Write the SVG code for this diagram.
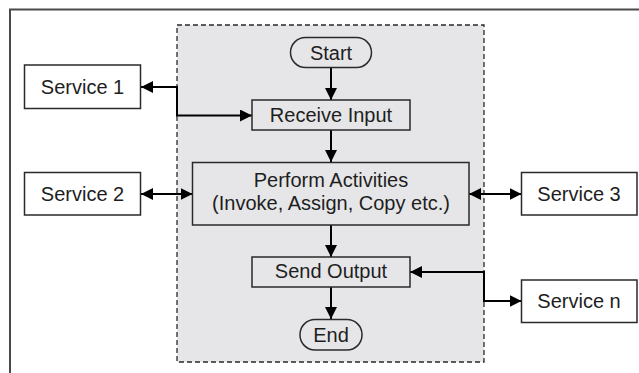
<svg xmlns="http://www.w3.org/2000/svg" width="639" height="373" viewBox="0 0 639 373">
  <style>
    .lbl { font-family: "Liberation Sans", Arial, sans-serif; font-size: 20px; fill: #1e1e1e; text-anchor: middle; }
    .svc { fill: #ffffff; stroke: #2a2a2a; stroke-width: 1.5; }
    .step { fill: #e6e6e8; stroke: #2a2a2a; stroke-width: 1.5; }
    .wire { fill: none; stroke: #000000; stroke-width: 2; }
  </style>
  <defs>
    <marker id="arrow" viewBox="0 0 12 12" refX="12" refY="6" markerWidth="12" markerHeight="12" markerUnits="userSpaceOnUse" orient="auto-start-reverse">
      <path d="M0,0 L12,6 L0,12 Z" fill="#000000"/>
    </marker>
  </defs>

  <rect width="639" height="373" fill="#ffffff"/>
  <!-- outer frame -->
  <path d="M10,373 V9.5 H639" fill="none" stroke="#4a4a4a" stroke-width="2"/>

  <!-- process boundary -->
  <rect id="process" x="177" y="25" width="307" height="337" fill="#e6e6e8" stroke="#2a2a2a" stroke-width="1.3" stroke-dasharray="5,3"/>

  <g id="connectors">
    <line class="wire" x1="331" y1="68" x2="331" y2="100" marker-end="url(#arrow)"/>
    <line class="wire" x1="331" y1="130" x2="331" y2="162" marker-end="url(#arrow)"/>
    <line class="wire" x1="331" y1="225" x2="331" y2="257" marker-end="url(#arrow)"/>
    <line class="wire" x1="331" y1="287" x2="331" y2="319" marker-end="url(#arrow)"/>
    <path class="wire" d="M141,87 H177 V115.5 H252" marker-start="url(#arrow)" marker-end="url(#arrow)"/>
    <line class="wire" x1="141" y1="194" x2="192.5" y2="194" marker-start="url(#arrow)" marker-end="url(#arrow)"/>
    <line class="wire" x1="469" y1="194" x2="521.5" y2="194" marker-start="url(#arrow)" marker-end="url(#arrow)"/>
    <path class="wire" d="M410,272 H484 V301 H521.5" marker-start="url(#arrow)" marker-end="url(#arrow)"/>
  </g>

  <g id="start">
    <rect class="step" x="290.5" y="37.5" width="81" height="30" rx="15"/>
    <text class="lbl" x="331" y="60">Start</text>
  </g>
  <g id="receive-input">
    <rect class="step" x="252" y="100" width="158" height="30"/>
    <text class="lbl" x="331" y="122">Receive Input</text>
  </g>
  <g id="perform-activities">
    <rect class="step" x="192.5" y="162.5" width="276.5" height="62.5"/>
    <text class="lbl" x="331" y="187">Perform Activities</text>
    <text class="lbl" x="331" y="210">(Invoke, Assign, Copy etc.)</text>
  </g>
  <g id="send-output">
    <rect class="step" x="252" y="257" width="158" height="30"/>
    <text class="lbl" x="331" y="278">Send Output</text>
  </g>
  <g id="end">
    <rect class="step" x="300" y="319.5" width="62" height="30.5" rx="15"/>
    <text class="lbl" x="331" y="342">End</text>
  </g>

  <g id="service-1">
    <rect class="svc" x="24.5" y="65" width="116" height="43.5"/>
    <text class="lbl" x="82.5" y="94">Service 1</text>
  </g>
  <g id="service-2">
    <rect class="svc" x="24.5" y="172.5" width="116" height="42.5"/>
    <text class="lbl" x="82.5" y="201">Service 2</text>
  </g>
  <g id="service-3">
    <rect class="svc" x="521.5" y="172.5" width="115.5" height="42.5"/>
    <text class="lbl" x="579" y="201">Service 3</text>
  </g>
  <g id="service-n">
    <rect class="svc" x="521.5" y="280" width="115.5" height="42.5"/>
    <text class="lbl" x="579" y="308">Service n</text>
  </g>
</svg>
